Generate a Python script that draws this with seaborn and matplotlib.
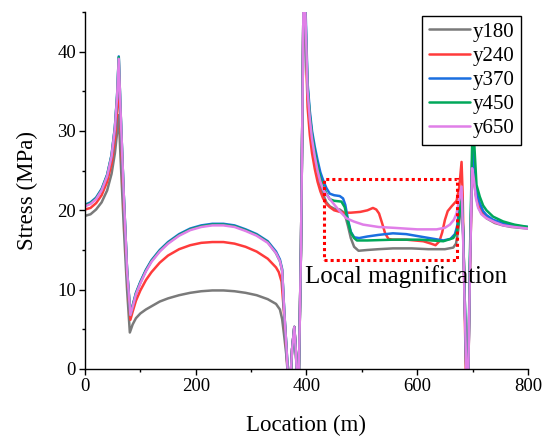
import matplotlib
matplotlib.use("Agg")
import matplotlib.pyplot as plt
from matplotlib.patches import Rectangle
from matplotlib.ticker import MultipleLocator
import pandas as pd
import seaborn as sns

# ---- stress profiles along the line: (location m, stress MPa) ----
y180_pts = [(0, 19.3), (10, 19.5), (20, 20.1), (30, 21.0), (40, 22.5), (48, 24.6), (54, 27.2),
            (58, 29.8), (61, 32.0), (64, 27.0), (70, 18.0), (76, 10.0), (81, 4.6), (86, 5.6),
            (92, 6.4), (100, 7.0), (110, 7.5), (120, 7.9), (135, 8.5), (150, 8.9), (170, 9.3),
            (190, 9.6), (210, 9.8), (230, 9.9), (250, 9.9), (270, 9.8), (290, 9.6), (310, 9.3),
            (330, 8.8), (345, 8.2), (352, 7.5), (356, 6.3), (360, 4.0), (364, 1.5), (367, -1.5),
            (371, -1.5), (374, 2.5), (378, 5.3), (381, 2.0), (383, -1.5), (386, -1.5), (390, 15),
            (393, 35), (394.5, 46), (396, 52), (398, 44), (400, 39), (402, 34.5), (406, 31.0),
            (410, 28.5), (415, 26.5), (420, 24.8), (425, 23.2), (430, 22.0), (436, 21.0),
            (442, 20.5), (450, 20.2), (460, 20.1), (466, 19.8), (470, 19.3), (475, 18.0),
            (480, 16.5), (486, 15.4), (494, 14.9), (510, 15.0), (530, 15.1), (556, 15.2),
            (590, 15.2), (620, 15.1), (650, 15.1), (665, 15.3), (670, 15.8), (674, 17.5),
            (678, 20.0), (681, 21.0), (684, 14.0), (687, 5.0), (689, -1.5), (692, -1.5),
            (695, 12.0), (699, 24.5), (702, 24.0), (706, 21.8), (710, 20.5), (716, 19.6),
            (725, 19.0), (740, 18.4), (755, 18.1), (770, 17.9), (800, 17.7)]

y240_pts = [(0, 20.1), (10, 20.3), (20, 20.9), (30, 21.9), (40, 23.6), (48, 25.9), (54, 29.0),
            (58, 32.5), (61, 36.5), (64, 31.0), (70, 21.0), (76, 12.0), (82, 6.2), (86, 7.2),
            (92, 8.6), (100, 9.9), (110, 11.2), (120, 12.2), (135, 13.4), (150, 14.3),
            (170, 15.1), (190, 15.6), (210, 15.9), (230, 16.0), (250, 16.0), (270, 15.8),
            (290, 15.4), (310, 14.8), (330, 13.9), (345, 12.8), (350, 12.2), (355, 11.0),
            (360, 6.5), (364, 2.0), (367, -1.5), (371, -1.5), (374, 2.5), (378, 5.3), (381, 2.0),
            (383, -1.5), (386, -1.5), (390, 15), (393, 35), (394.5, 46), (396, 50), (398, 43),
            (400, 38), (402, 33.0), (406, 29.5), (410, 27.2), (415, 25.2), (420, 23.6),
            (425, 22.4), (430, 21.5), (436, 20.8), (442, 20.4), (450, 20.0), (466, 19.7),
            (480, 19.7), (497, 19.8), (510, 20.0), (520, 20.3), (526, 20.1), (531, 19.6),
            (536, 18.5), (542, 17.1), (548, 16.4), (555, 16.3), (580, 16.3), (611, 16.1),
            (625, 15.8), (633, 15.6), (640, 16.1), (645, 17.2), (650, 18.8), (655, 19.9),
            (662, 20.5), (671, 21.2), (676, 23.0), (680, 26.1), (682, 22.0), (685, 10.0),
            (688, -1.5), (692, -1.5), (695, 12.0), (699, 25.0), (702, 24.5), (706, 22.0),
            (710, 20.7), (716, 19.8), (725, 19.1), (740, 18.5), (755, 18.2), (770, 18.0),
            (800, 17.8)]

y370_pts = [(0, 20.7), (10, 21.0), (20, 21.6), (30, 22.7), (40, 24.5), (48, 27.0), (54, 30.5),
            (58, 34.5), (61, 39.4), (64, 33.0), (70, 22.0), (76, 12.5), (82, 6.9), (86, 8.0),
            (92, 9.6), (100, 11.0), (110, 12.5), (120, 13.7), (135, 15.0), (150, 16.0),
            (170, 17.0), (190, 17.7), (210, 18.1), (230, 18.3), (250, 18.3), (270, 18.1),
            (290, 17.6), (310, 17.0), (330, 16.1), (345, 14.8), (352, 13.8), (356, 12.6),
            (360, 7.0), (364, 2.5), (367, -1.5), (371, -1.5), (374, 2.5), (378, 5.3), (381, 2.0),
            (383, -1.5), (386, -1.5), (390, 15), (393, 35), (394.5, 46), (396, 52), (398, 46),
            (400, 41), (402, 36.0), (406, 32.5), (410, 30.0), (415, 28.0), (420, 26.3),
            (425, 24.8), (430, 23.8), (436, 22.8), (442, 22.1), (450, 21.9), (460, 21.8),
            (466, 21.5), (470, 20.7), (475, 18.8), (480, 17.3), (486, 16.6), (495, 16.5),
            (510, 16.7), (530, 16.9), (556, 17.1), (580, 17.0), (605, 16.7), (630, 16.4),
            (647, 16.2), (660, 16.4), (668, 17.0), (672, 18.0), (676, 20.5), (680, 22.5),
            (683, 17.0), (686, 8.0), (689, -1.5), (692, -1.5), (695, 13.0), (699, 26.0),
            (701, 28.0), (704, 24.5), (707, 22.3), (713, 20.9), (719, 19.9), (725, 19.4),
            (737, 18.8), (755, 18.4), (770, 18.2), (785, 18.0), (800, 17.9)]

y450_pts = [(0, 20.6), (10, 20.9), (20, 21.5), (30, 22.6), (40, 24.4), (48, 26.9), (54, 30.4),
            (58, 34.4), (61, 39.3), (64, 33.0), (70, 22.0), (76, 12.4), (82, 6.8), (86, 7.9),
            (92, 9.5), (100, 10.9), (110, 12.4), (120, 13.6), (135, 14.9), (150, 15.9),
            (170, 16.9), (190, 17.6), (210, 18.0), (230, 18.2), (250, 18.2), (270, 18.0),
            (290, 17.5), (310, 16.9), (330, 16.0), (345, 14.6), (352, 13.6), (356, 12.4),
            (360, 7.0), (364, 2.5), (367, -1.5), (371, -1.5), (374, 2.5), (378, 5.3), (381, 2.0),
            (383, -1.5), (386, -1.5), (390, 15), (393, 35), (394.5, 46), (396, 52), (398, 45),
            (400, 40), (402, 35.5), (406, 32.0), (410, 29.5), (415, 27.4), (420, 25.6),
            (425, 24.1), (430, 23.0), (436, 22.1), (442, 21.4), (450, 21.2), (463, 21.1),
            (469, 20.4), (475, 18.5), (480, 17.2), (486, 16.5), (491, 16.2), (510, 16.2),
            (556, 16.3), (605, 16.3), (647, 16.1), (665, 16.5), (671, 17.2), (674, 18.2),
            (677, 20.0), (680, 22.5), (683, 17.0), (686, 8.0), (689, -1.5), (692, -1.5),
            (695, 14.0), (699, 28.0), (701, 31.0), (704, 27.0), (707, 23.2), (713, 21.7),
            (719, 20.6), (725, 20.0), (737, 19.2), (755, 18.6), (775, 18.2), (800, 17.9)]

y650_pts = [(0, 20.5), (10, 20.8), (20, 21.4), (30, 22.5), (40, 24.3), (48, 26.8), (54, 30.3),
            (58, 34.3), (61, 39.1), (64, 33.0), (70, 22.0), (76, 12.4), (82, 6.8), (86, 7.8),
            (92, 9.4), (100, 10.8), (110, 12.3), (120, 13.5), (135, 14.8), (150, 15.8),
            (170, 16.8), (190, 17.5), (210, 17.9), (230, 18.1), (250, 18.1), (270, 17.9),
            (290, 17.4), (310, 16.8), (330, 15.9), (345, 14.6), (352, 13.6), (356, 12.4),
            (360, 7.0), (364, 2.5), (367, -1.5), (371, -1.5), (374, 2.5), (378, 5.3), (381, 2.0),
            (383, -1.5), (386, -1.5), (390, 15), (393, 35), (394.5, 46), (396, 52), (398, 45),
            (400, 40), (402, 35.0), (406, 31.5), (410, 29.0), (415, 26.8), (420, 25.0),
            (425, 23.6), (431, 22.5), (440, 21.6), (448, 20.9), (460, 19.9), (472, 19.0),
            (485, 18.6), (502, 18.2), (530, 17.9), (556, 17.8), (600, 17.6), (635, 17.6),
            (650, 17.8), (659, 18.2), (666, 18.8), (671, 19.6), (676, 21.5), (680, 23.0),
            (683, 16.0), (686, 7.0), (689, -1.5), (692, -1.5), (695, 12.0), (699, 25.3),
            (702, 24.0), (706, 21.5), (710, 20.3), (716, 19.5), (725, 19.0), (740, 18.5),
            (755, 18.1), (775, 17.9), (800, 17.7)]

series_names = ["y180", "y240", "y370", "y450", "y650"]
series_pts = [y180_pts, y240_pts, y370_pts, y450_pts, y650_pts]
series_colors = ["#7a7a7a", "#ff3b3b", "#1a6fe0", "#00a85a", "#e07fe8"]

frames = []
for name, pts in zip(series_names, series_pts):
    frames.append(pd.DataFrame({"Location": [p[0] for p in pts],
                                "Stress": [p[1] for p in pts],
                                "series": name}))
df = pd.concat(frames, ignore_index=True)

sns.set_style("ticks")
plt.rcParams["font.family"] = ["Liberation Serif", "DejaVu Serif"]
plt.rcParams["text.color"] = "black"
plt.rcParams["axes.labelcolor"] = "black"
plt.rcParams["xtick.color"] = "black"
plt.rcParams["ytick.color"] = "black"

fig = plt.figure(figsize=(5.43, 4.42), dpi=100)
ax = fig.add_axes([0.1565, 0.1652, 0.8159, 0.8077])

sns.lineplot(data=df, x="Location", y="Stress", hue="series", hue_order=series_names,
             palette=dict(zip(series_names, series_colors)), estimator=None, sort=False,
             linewidth=1.8, ax=ax)

ax.set_xlim(0, 800)
ax.set_ylim(0, 45)
ax.xaxis.set_major_locator(MultipleLocator(200))
ax.xaxis.set_minor_locator(MultipleLocator(100))
ax.yaxis.set_major_locator(MultipleLocator(10))
ax.yaxis.set_minor_locator(MultipleLocator(5))
ax.tick_params(which="major", direction="out", length=4.5, width=1.0, labelsize=13.5,
               color="black", labelcolor="black", pad=2)
ax.tick_params(which="minor", direction="out", length=2.5, width=1.0, color="black")
sns.despine(ax=ax)
for sp in ("left", "bottom"):
    ax.spines[sp].set_linewidth(1.0)
    ax.spines[sp].set_color("black")

ax.set_xlabel("Location (m)", fontsize=16.5, labelpad=14, color="black")
ax.set_ylabel("Stress (MPa)", fontsize=16.5, labelpad=14, color="black")

# region enclosed for closer inspection
ax.add_patch(Rectangle((431, 13.8), 240, 10.2, fill=False, edgecolor="#ff0000",
                       linestyle=(0, (1, 1)), linewidth=2.2, zorder=5))
ax.text(580, 11.6, "Local magnification", fontsize=18, ha="center", va="center",
        color="black")

leg = ax.legend(loc="upper right", bbox_to_anchor=(0.984, 0.989), borderaxespad=0,
                fontsize=15, frameon=True, fancybox=False, framealpha=1,
                edgecolor="black", handlelength=2.0, handletextpad=0.12,
                labelspacing=0.22, borderpad=0.3, title=None)
leg.get_frame().set_linewidth(1.0)
for line in leg.get_lines():
    line.set_linewidth(1.8)
for t in leg.get_texts():
    t.set_color("black")

fig.savefig("out.png", dpi=100)
